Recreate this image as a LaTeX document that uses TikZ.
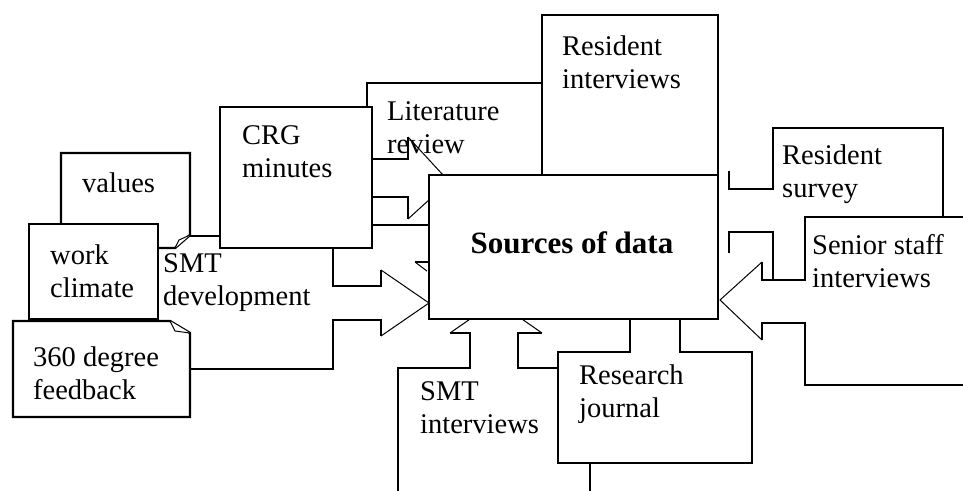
\documentclass[tikz,border=0pt]{standalone}
\usepackage{fontspec}
\setmainfont{Liberation Serif}
\begin{document}
\begin{tikzpicture}[x=1pt,y=-1pt,
  shape line/.style={draw=black, line width=2.4pt, line join=miter, line cap=butt},
  shape fill/.style={shape line, fill=white},
  tip line/.style={draw=black, line width=1pt},
  % base anchor of a two-line label sits on its last line
  lbl/.style={font=\fontsize{28.5}{33}\selectfont, align=left, inner sep=0pt, anchor=base west},
]
\useasboundingbox (0,0) rectangle (963,490);

% Literature review callout, lying underneath the others
\draw[shape line] (542,83) -- (367,83) -- (367,159) -- (408,159) -- (408,137);
\draw[tip line] (408,137) -- (443,175);

% Resident interviews
\draw[shape fill] (542,190) -- (542,15) -- (718,15) -- (718,190);

% SMT development: right-pointing arrow callout
\fill[white] (100,236) -- (333,236) -- (333,286) -- (381,286) -- (381,270) -- (429,303)
  -- (381,336) -- (381,320) -- (333,320) -- (333,369) -- (100,369) -- cycle;
\draw[shape line] (100,236) -- (333,236) -- (333,286) -- (381,286) -- (381,270);
\draw[tip line] (381,270) -- (429,303) -- (381,336);
\draw[shape line] (381,336) -- (381,320) -- (333,320) -- (333,369) -- (100,369);

% CRG minutes
\draw[shape fill] (220,107) rectangle (372,248);
\draw[shape line] (372,197) -- (408,197) -- (408,219);
\draw[tip line] (408,219) -- (430,199);
\draw[shape line] (372,225) -- (430,225);

% values: folded corner at the bottom right
\draw[shape fill] (61,248) -- (61,153) -- (190,153) -- (190,235) -- (175,248) -- cycle;
\draw[tip line, fill=white] (175,248) -- (179,240) -- (190,235);

% work climate
\draw[shape fill] (29,224) rectangle (158,319);

% 360 degree feedback: folded corner at the top right
\draw[shape fill] (13,321) -- (170,321) -- (190,333) -- (190,417) -- (13,417) -- cycle;
\draw[tip line, fill=white] (170,321) -- (175,331) -- (190,333);

% SMT interviews: upward arrow callout
\fill[white] (398,500) -- (398,368) -- (470,368) -- (470,333) -- (450,333) -- (496,301)
  -- (542,333) -- (518,333) -- (518,368) -- (590,368) -- (590,500) -- cycle;
\draw[shape line] (398,495) -- (398,368) -- (470,368) -- (470,333) -- (450,333);
\draw[tip line] (450,333) -- (496,301) -- (542,333);
\draw[shape line] (542,333) -- (518,333) -- (518,368) -- (590,368) -- (590,495);

% Research journal: upward callout
\draw[shape fill] (558,352) -- (630,352) -- (630,310) -- (680,310) -- (680,352)
  -- (752,352) -- (752,463) -- (558,463) -- cycle;

% Resident survey
\draw[shape line] (729,171) -- (729,189) -- (773,189) -- (773,128) -- (943,128) -- (943,230);

% bracket between survey and staff callouts
\draw[shape line] (729,253) -- (729,232) -- (773,232) -- (773,285);

% Senior staff interviews: left-pointing arrow callout
\fill[white] (970,217) -- (805,217) -- (805,280) -- (762,280) -- (762,262) -- (720,300)
  -- (762,340) -- (762,323) -- (805,323) -- (805,385) -- (970,385) -- cycle;
\draw[shape line] (970,217) -- (805,217) -- (805,280) -- (762,280) -- (762,262);
\draw[tip line] (762,262) -- (720,300) -- (762,340);
\draw[shape line] (762,340) -- (762,323) -- (805,323) -- (805,385) -- (970,385);

% central box
\draw[shape fill] (429,175) rectangle (718,319);
\draw[shape line] (415,262) -- (429,262);
\draw[tip line] (415,262) -- (427,271);

% labels
\node[lbl] (tValues) at (82,192) {values};
\node[lbl] (tClimate) at (50,297) {work\\climate};
\node[lbl] (tSMTdev) at (163,305) {SMT\\development};
\node[lbl] (t360) at (33,399) {360 degree\\feedback};
\node[lbl] (tCRG) at (242,177) {CRG\\minutes};
\node[lbl] (tLit) at (387,153) {Literature\\review};
\node[lbl] (tResInt) at (562,88) {Resident\\interviews};
\node[lbl] (tResSurv) at (782,197) {Resident\\survey};
\node[lbl] (tSenior) at (812,287) {Senior staff\\interviews};
\node[lbl] (tSMTint) at (420,433) {SMT\\interviews};
\node[lbl] (tJournal) at (579,417) {Research\\journal};
\node[font=\bfseries\fontsize{31}{36}\selectfont, anchor=base, inner sep=0pt] (tSources) at (572,253) {Sources of data};
\end{tikzpicture}
\end{document}
